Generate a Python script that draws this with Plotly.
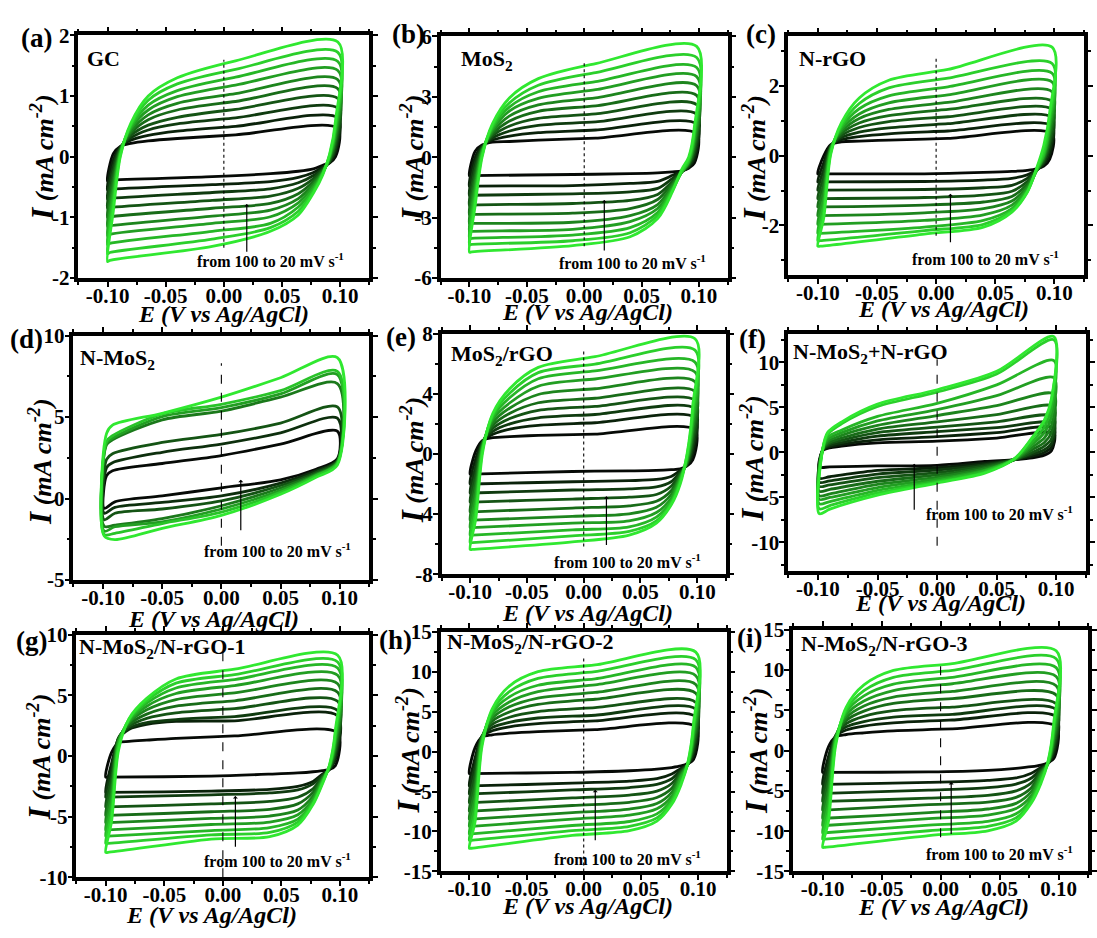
import plotly.graph_objects as go

# ---------------- DATA ----------------
# Symmetric-panel node potentials (V)
UE = [-0.1, -0.095, -0.089, -0.08, -0.065, -0.04, 0.01, 0.098]      # forward scan nodes
DE = [0.096, 0.091, 0.085, 0.077, 0.064, 0.04, -0.01, -0.098]      # reverse scan nodes
# each row = one node, each column = one scan rate (dark -> bright)

A_UP = [[-0.40, -0.55, -0.70, -0.85, -1.0, -1.15, -1.3, -1.45, -1.6, -1.73],
        [0.05, -0.05, -0.15, -0.25, -0.35, -0.45, -0.55, -0.65, -0.77, -0.9],
        [0.17, 0.16, 0.15, 0.14, 0.12, 0.1, 0.08, 0.06, 0.03, 0.0],
        [0.22, 0.27, 0.31, 0.35, 0.39, 0.42, 0.46, 0.49, 0.52, 0.55],
        [0.26, 0.35, 0.44, 0.52, 0.61, 0.69, 0.77, 0.85, 0.93, 1.0],
        [0.30, 0.42, 0.54, 0.65, 0.77, 0.88, 0.99, 1.09, 1.2, 1.30],
        [0.36, 0.50, 0.64, 0.78, 0.91, 1.04, 1.18, 1.31, 1.44, 1.58],
        [0.47, 0.64, 0.80, 0.96, 1.12, 1.27, 1.42, 1.57, 1.72, 1.89]]
A_DN = [[0.0, 0.07, 0.13, 0.2, 0.27, 0.33, 0.4, 0.46, 0.53, 0.6],
        [-0.1, -0.1, -0.08, -0.07, -0.05, -0.03, -0.01, 0.01, 0.03, 0.05],
        [-0.14, -0.17, -0.19, -0.21, -0.23, -0.25, -0.26, -0.27, -0.28, -0.3],
        [-0.2, -0.26, -0.31, -0.36, -0.41, -0.45, -0.49, -0.53, -0.57, -0.6],
        [-0.24, -0.34, -0.43, -0.52, -0.61, -0.69, -0.76, -0.83, -0.9, -0.96],
        [-0.28, -0.41, -0.53, -0.65, -0.77, -0.88, -0.99, -1.1, -1.17, -1.23],
        [-0.33, -0.46, -0.59, -0.72, -0.85, -0.98, -1.1, -1.23, -1.36, -1.48],
        [-0.39, -0.54, -0.69, -0.84, -0.99, -1.14, -1.28, -1.43, -1.58, -1.71]]

B_UP = [[-0.93, -1.45, -1.9, -2.4, -2.85, -3.3, -3.7, -4.05, -4.35, -4.72],
        [0.3, 0.0, -0.3, -0.6, -0.9, -1.2, -1.5, -1.8, -2.1, -2.4],
        [0.6, 0.55, 0.5, 0.45, 0.4, 0.35, 0.3, 0.2, 0.1, 0.0],
        [0.75, 0.85, 0.95, 1.05, 1.15, 1.25, 1.35, 1.45, 1.55, 1.65],
        [0.78, 1.05, 1.3, 1.55, 1.8, 2.05, 2.3, 2.5, 2.7, 2.95],
        [0.85, 1.22, 1.58, 1.93, 2.28, 2.6, 2.92, 3.25, 3.57, 3.9],
        [0.95, 1.35, 1.75, 2.15, 2.55, 2.95, 3.35, 3.75, 4.2, 4.65],
        [1.17, 1.65, 2.13, 2.6, 3.07, 3.55, 4.0, 4.45, 4.95, 5.5]]
B_DN = [[-0.3, -0.1, 0.1, 0.3, 0.5, 0.7, 0.9, 1.1, 1.3, 1.5],
        [-0.55, -0.5, -0.45, -0.4, -0.35, -0.3, -0.25, -0.2, -0.1, 0.0],
        [-0.68, -0.7, -0.72, -0.73, -0.74, -0.74, -0.74, -0.73, -0.7, -0.6],
        [-0.73, -0.9, -1.05, -1.2, -1.3, -1.4, -1.5, -1.58, -1.65, -1.7],
        [-0.78, -1.2, -1.55, -1.85, -2.1, -2.35, -2.55, -2.75, -2.9, -3.05],
        [-0.82, -1.3, -1.72, -2.15, -2.55, -2.9, -3.2, -3.5, -3.75, -3.95],
        [-0.86, -1.41, -1.82, -2.3, -2.78, -3.23, -3.58, -3.87, -4.15, -4.39],
        [-0.92, -1.44, -1.89, -2.38, -2.84, -3.29, -3.68, -4.03, -4.33, -4.7]]

C_UP = [[-0.52, -0.75, -0.99, -1.23, -1.47, -1.72, -1.97, -2.23, -2.44, -2.6],
        [0.0, -0.2, -0.4, -0.6, -0.8, -1.0, -1.2, -1.4, -1.6, -1.8],
        [0.32, 0.3, 0.28, 0.26, 0.24, 0.22, 0.2, 0.15, 0.1, 0.05],
        [0.4, 0.46, 0.52, 0.58, 0.64, 0.7, 0.76, 0.82, 0.88, 0.95],
        [0.42, 0.55, 0.68, 0.81, 0.94, 1.07, 1.2, 1.35, 1.5, 1.66],
        [0.45, 0.63, 0.8, 0.98, 1.15, 1.33, 1.52, 1.72, 1.95, 2.17],
        [0.5, 0.71, 0.92, 1.12, 1.33, 1.53, 1.75, 1.98, 2.23, 2.48],
        [0.63, 0.85, 1.1, 1.33, 1.56, 1.84, 2.12, 2.37, 2.65, 3.12]]
C_DN = [[-0.1, 0.05, 0.2, 0.35, 0.5, 0.65, 0.8, 0.95, 1.1, 1.25],
        [-0.3, -0.25, -0.2, -0.15, -0.1, -0.05, 0.0, 0.05, 0.15, 0.3],
        [-0.38, -0.4, -0.42, -0.42, -0.42, -0.42, -0.42, -0.4, -0.38, -0.35],
        [-0.42, -0.55, -0.65, -0.74, -0.82, -0.89, -0.95, -1.0, -1.04, -1.05],
        [-0.45, -0.65, -0.85, -1.02, -1.17, -1.3, -1.42, -1.52, -1.58, -1.62],
        [-0.48, -0.7, -0.92, -1.13, -1.33, -1.52, -1.7, -1.86, -1.97, -2.05],
        [-0.52, -0.74, -0.97, -1.2, -1.42, -1.64, -1.86, -2.05, -2.15, -2.25],
        [-0.52, -0.75, -0.99, -1.23, -1.47, -1.72, -1.97, -2.23, -2.44, -2.6]]

E_UP = [[-1.35, -2.0, -2.6, -3.2, -3.85, -4.4, -4.9, -5.4, -5.9, -6.35],
        [0.2, -0.3, -0.8, -1.3, -1.8, -2.3, -2.8, -3.3, -3.8, -4.3],
        [0.9, 0.85, 0.8, 0.75, 0.7, 0.6, 0.5, 0.4, 0.3, 0.1],
        [1.08, 1.3, 1.5, 1.7, 1.9, 2.1, 2.3, 2.45, 2.6, 2.7],
        [1.15, 1.65, 2.0, 2.35, 2.7, 3.05, 3.4, 3.75, 4.05, 4.35],
        [1.23, 1.9, 2.4, 2.9, 3.4, 3.95, 4.5, 5.0, 5.4, 5.75],
        [1.32, 2.07, 2.62, 3.16, 3.7, 4.33, 4.98, 5.52, 5.97, 6.46],
        [1.6, 2.4, 3.0, 3.55, 4.15, 4.8, 5.45, 6.1, 6.9, 7.65]]
E_DN = [[-0.4, 0.0, 0.4, 0.8, 1.2, 1.6, 2.0, 2.4, 2.8, 3.2],
        [-0.8, -0.75, -0.7, -0.65, -0.6, -0.5, -0.4, -0.3, -0.1, 0.0],
        [-1.0, -1.1, -1.2, -1.3, -1.4, -1.5, -1.6, -1.7, -1.85, -2.0],
        [-1.05, -1.5, -1.85, -2.15, -2.45, -2.7, -2.95, -3.15, -3.3, -3.4],
        [-1.1, -1.7, -2.2, -2.7, -3.15, -3.55, -3.9, -4.2, -4.45, -4.6],
        [-1.13, -1.78, -2.32, -2.88, -3.45, -3.98, -4.45, -4.85, -5.15, -5.4],
        [-1.17, -1.85, -2.4, -3.0, -3.6, -4.15, -4.6, -5.05, -5.45, -5.85],
        [-1.35, -2.0, -2.6, -3.2, -3.85, -4.4, -4.9, -5.4, -5.9, -6.35]]

G_UP = [[-1.75, -3.0, -3.4, -4.2, -4.9, -5.5, -6.1, -6.6, -7.2, -7.95],
        [0.3, -0.6, -1.2, -1.8, -2.4, -3.0, -3.6, -4.2, -4.8, -5.4],
        [1.1, 1.4, 1.5, 1.5, 1.4, 1.3, 1.2, 1.0, 0.8, 0.5],
        [1.2, 2.2, 2.3, 2.45, 2.6, 2.75, 2.85, 2.95, 3.05, 3.1],
        [1.3, 2.6, 2.75, 3.1, 3.45, 3.8, 4.1, 4.35, 4.55, 4.75],
        [1.45, 2.85, 3.0, 3.55, 4.1, 4.65, 5.15, 5.6, 6.0, 6.35],
        [1.65, 2.9, 3.25, 3.9, 4.55, 5.2, 5.8, 6.3, 6.7, 7.15],
        [1.9, 3.3, 3.75, 4.5, 5.25, 5.95, 6.65, 7.25, 7.75, 8.3]]
G_DN = [[-0.8, -0.3, 0.0, 0.3, 0.6, 0.9, 1.2, 1.5, 1.8, 2.1],
        [-1.1, -1.1, -1.1, -1.05, -1.0, -0.95, -0.9, -0.85, -0.8, -0.75],
        [-1.2, -1.5, -1.6, -1.7, -1.8, -1.9, -2.0, -2.1, -2.2, -2.3],
        [-1.3, -2.1, -2.3, -2.7, -3.0, -3.3, -3.55, -3.75, -3.9, -4.0],
        [-1.4, -2.5, -2.8, -3.4, -3.95, -4.45, -4.85, -5.2, -5.45, -5.7],
        [-1.5, -2.75, -3.05, -3.75, -4.4, -4.95, -5.45, -5.9, -6.3, -6.65],
        [-1.66, -2.9, -3.2, -3.95, -4.6, -5.15, -5.65, -6.15, -6.5, -6.85],
        [-1.75, -3.0, -3.4, -4.2, -4.9, -5.5, -6.1, -6.6, -7.2, -7.95]]

H_UP = [[-2.75, -4.3, -5.3, -6.4, -7.45, -8.45, -9.35, -10.3, -11.1, -12.1],
        [0.5, -0.8, -1.8, -2.8, -3.8, -4.8, -5.8, -6.8, -7.8, -8.8],
        [1.8, 1.9, 1.9, 1.9, 1.8, 1.7, 1.5, 1.3, 1.0, 0.6],
        [2.1, 2.6, 3.0, 3.4, 3.8, 4.15, 4.5, 4.85, 5.1, 5.35],
        [2.3, 3.1, 3.65, 4.3, 4.95, 5.6, 6.2, 6.85, 7.5, 8.2],
        [2.5, 3.5, 4.2, 5.0, 5.9, 6.7, 7.5, 8.3, 9.15, 10.0],
        [2.75, 3.85, 4.55, 5.5, 6.55, 7.4, 8.35, 9.1, 10.0, 10.85],
        [3.1, 4.35, 5.3, 6.15, 7.3, 8.4, 9.5, 10.55, 11.5, 12.45]]
H_DN = [[-1.0, -0.5, 0.0, 0.5, 1.0, 1.5, 2.0, 2.5, 3.0, 3.5],
        [-1.5, -1.6, -1.6, -1.6, -1.6, -1.6, -1.6, -1.6, -1.5, -1.4],
        [-1.8, -2.1, -2.3, -2.5, -2.7, -2.9, -3.1, -3.4, -3.9, -4.2],
        [-2.0, -2.8, -3.4, -4.0, -4.6, -5.1, -5.6, -6.0, -6.3, -6.6],
        [-2.2, -3.4, -4.1, -4.95, -5.75, -6.5, -7.15, -7.8, -8.3, -8.7],
        [-2.4, -3.7, -4.5, -5.45, -6.35, -7.2, -7.95, -8.75, -9.35, -9.9],
        [-2.6, -3.95, -4.8, -5.8, -6.75, -7.65, -8.45, -9.25, -9.9, -10.5],
        [-2.75, -4.3, -5.3, -6.4, -7.45, -8.45, -9.35, -10.3, -11.1, -12.1]]

I_UP = [[-2.7, -4.2, -5.3, -6.3, -7.4, -8.4, -9.3, -10.2, -11.0, -12.0],
        [0.5, -0.7, -1.7, -2.7, -3.7, -4.7, -5.7, -6.7, -7.7, -8.7],
        [1.7, 1.8, 1.85, 1.85, 1.75, 1.65, 1.5, 1.3, 1.0, 0.6],
        [2.0, 2.55, 2.95, 3.35, 3.75, 4.1, 4.45, 4.8, 5.1, 5.4],
        [2.2, 3.05, 3.6, 4.25, 4.9, 5.55, 6.15, 6.8, 7.45, 8.15],
        [2.45, 3.45, 4.15, 4.95, 5.85, 6.65, 7.45, 8.25, 9.1, 9.95],
        [2.7, 3.8, 4.5, 5.4, 6.45, 7.35, 8.3, 9.1, 9.95, 10.8],
        [3.0, 4.2, 5.1, 5.8, 6.9, 8.05, 9.2, 10.3, 11.4, 12.4]]
I_DN = [[-1.0, -0.5, 0.0, 0.5, 1.0, 1.5, 2.0, 2.5, 3.0, 3.5],
        [-1.5, -1.6, -1.6, -1.6, -1.6, -1.6, -1.6, -1.6, -1.5, -1.4],
        [-1.8, -2.1, -2.3, -2.5, -2.7, -2.9, -3.1, -3.4, -3.8, -4.1],
        [-2.0, -2.8, -3.4, -4.0, -4.6, -5.1, -5.6, -6.0, -6.3, -6.5],
        [-2.2, -3.4, -4.15, -5.0, -5.8, -6.55, -7.2, -7.85, -8.35, -8.75],
        [-2.45, -3.7, -4.6, -5.55, -6.4, -7.25, -8.0, -8.8, -9.4, -9.95],
        [-2.65, -3.95, -4.9, -5.9, -6.7, -7.7, -8.45, -9.25, -9.95, -10.55],
        [-2.7, -4.2, -5.3, -6.3, -7.4, -8.4, -9.3, -10.2, -11.0, -12.0]]

# Panel (d): 7 scan rates
D_UE = [-0.099, -0.097, -0.092, -0.05, 0.0, 0.05, 0.098]
D_DE = [0.098, 0.08, 0.05, 0.0, -0.05, -0.09]
D_UP = [[-0.6, -0.9, -1.3, -1.7, -2.0, -2.2, -2.3],
        [1.4, 1.9, 2.4, 3.3, 3.4, 3.5, 4.0],
        [1.7, 2.2, 2.75, 3.6, 3.7, 3.85, 4.5],
        [2.15, 2.84, 3.44, 4.83, 5.03, 5.19, 5.23],
        [2.64, 3.34, 3.93, 5.36, 5.58, 5.78, 6.22],
        [3.34, 4.03, 4.63, 6.22, 6.42, 6.62, 7.41],
        [4.13, 4.93, 5.62, 7.05, 7.6, 7.8, 8.64]]
D_DN = [[2.44, 2.35, 2.3, 2.25, 2.2, 2.15, 2.05],
        [1.8, 1.7, 1.6, 1.5, 1.45, 1.4, 1.3],
        [1.15, 0.95, 0.8, 0.65, 0.5, 0.38, 0.26],
        [0.66, 0.16, -0.14, -0.44, -0.64, -0.83, -1.03],
        [0.16, -0.24, -0.64, -1.23, -1.43, -1.53, -1.83],
        [-0.2, -0.54, -0.9, -1.63, -1.73, -2.13, -2.52]]

# Panel (f): fan shaped loops
F_UE = [-0.099, -0.096, -0.092, -0.08, -0.05, 0.0, 0.05, 0.098]
F_DE = [0.096, 0.09, 0.08, 0.065, 0.04, 0.0, -0.05, -0.09]
F_UP = [[-1.6, -2.85, -3.3, -3.75, -4.3, -4.8, -5.2, -5.7, -6.25, -6.8],
        [0.2, 0.25, 0.3, 0.3, 0.35, 0.35, 0.4, 0.4, 0.4, 0.4],
        [0.45, 0.55, 0.7, 0.85, 1.0, 1.2, 1.45, 1.7, 2.0, 2.2],
        [0.71, 0.9, 1.1, 1.35, 1.6, 1.9, 2.2, 2.5, 3.2, 3.4],
        [1.07, 1.4, 1.8, 2.2, 2.6, 3.0, 3.5, 4.0, 5.1, 5.36],
        [1.25, 1.75, 2.3, 2.8, 3.4, 4.1, 4.75, 5.45, 6.7, 6.96],
        [1.6, 2.2, 2.75, 3.4, 4.2, 5.2, 6.3, 7.5, 8.7, 9.0],
        [2.1, 2.7, 3.2, 4.0, 5.1, 6.5, 8.3, 10.2, 12.5, 12.86]]
F_DN = [[0.2, 0.6, 1.0, 1.5, 2.2, 3.0, 4.0, 5.0, 5.8, 6.0],
        [-0.3, 0.0, 0.3, 0.7, 1.1, 1.6, 2.2, 2.8, 3.4, 3.6],
        [-0.6, -0.4, -0.2, 0.0, 0.3, 0.6, 0.9, 1.2, 1.6, 1.7],
        [-0.8, -0.8, -0.8, -0.8, -0.8, -0.8, -0.75, -0.7, -0.7, -0.7],
        [-1.0, -1.2, -1.35, -1.5, -1.65, -1.8, -1.95, -2.05, -2.2, -2.3],
        [-1.43, -1.7, -1.95, -2.25, -2.5, -2.75, -2.95, -3.15, -3.3, -3.4],
        [-1.5, -2.0, -2.4, -2.8, -3.2, -3.55, -3.9, -4.2, -4.5, -4.75],
        [-1.6, -2.7, -3.15, -3.6, -4.1, -4.6, -5.0, -5.45, -5.9, -6.3]]

SAMPLES = ["GC", "MoS<sub>2</sub>", "N-rGO", "N-MoS<sub>2</sub>", "MoS<sub>2</sub>/rGO",
           "N-MoS<sub>2</sub>+N-rGO", "N-MoS<sub>2</sub>/N-rGO-1", "N-MoS<sub>2</sub>/N-rGO-2",
           "N-MoS<sub>2</sub>/N-rGO-3"]
LETTERS = ["(a)", "(b)", "(c)", "(d)", "(e)", "(f)", "(g)", "(h)", "(i)"]
X_TICKS = [-0.10, -0.05, 0.00, 0.05, 0.10]
Y_RANGES = [[-2, 2], [-6, 6], [-3.43, 3.43], [-5, 10], [-8, 8], [-13.2, 13.2],
            [-10, 10], [-15, 15], [-15, 15]]
Y_TICKS = [[-2, -1, 0, 1, 2], [-6, -3, 0, 3, 6], [-2, 0, 2], [-5, 0, 5, 10], [-8, -4, 0, 4, 8],
           [-10, -5, 0, 5, 10], [-10, -5, 0, 5, 10], [-15, -10, -5, 0, 5, 10, 15],
           [-15, -10, -5, 0, 5, 10, 15]]
# vertical reference line at E = 0 (bottom, top current)
REF_LINE = [[-1.5, 1.6], [-4.42, 4.7], [-2.3, 2.86], [-2.9, 8.3], [-6.16, 6.85],
            [-10.36, 10.36], [-10, 9.1], [-15, 12.0], [-10.75, 11.1]]
# arrow: E, tail current, head current
ARROWS = [[0.0197, -1.59, -0.78], [0.0175, -4.71, -2.13], [0.0121, -2.53, -1.09],
          [0.0164, -2.03, 1.15], [0.02, -6.16, -2.81], [-0.0192, -6.54, -1.25],
          [0.0107, -7.6, -3.3], [0.0101, -11.27, -4.78], [0.009, -10.55, -3.88]]

PANEL_DATA = [(UE, A_UP, DE, A_DN), (UE, B_UP, DE, B_DN), (UE, C_UP, DE, C_DN),
              (D_UE, D_UP, D_DE, D_DN), (UE, E_UP, DE, E_DN), (F_UE, F_UP, F_DE, F_DN),
              (UE, G_UP, DE, G_DN), (UE, H_UP, DE, H_DN), (UE, I_UP, DE, I_DN)]

# ---------------- LAYOUT / STYLE ----------------
W, H = 1097, 938
BOX = [(79, 372, 24, 273), (444, 733, 25, 273), (794, 1092, 25, 270),
       (74, 372, 332, 583), (445, 731, 330, 577), (794, 1094, 330, 574),
       (77, 372, 639, 888), (444, 732, 636, 882), (799, 1096, 634, 882)]
LETTER_POS = [(37, 27), (411, 23), (767, 23), (27, 336), (404, 334), (758, 336),
              (32, 646), (398, 644), (755, 642)]
SAMPLE_POS = [(86, 48), (462, 49), (803, 48), (79, 356), (452, 352), (797, 350),
              (78, 653), (448, 648), (805, 650)]
XT_POS = [(225, 310), (592, 308), (950, 305), (215, 623), (592, 617), (947, 607),
          (213, 927), (592, 917), (950, 918)]
YT_POS = [(42, 150), (415, 150), (760, 150), (40, 462), (415, 460), (758, 458),
          (40, 765), (412, 758), (762, 758)]
RATE_POS = [(272, 254), (637, 257), (993, 252), (280, 552), (632, 563), (1007, 514),
            (280, 870), (632, 868), (1007, 863)]
DASH = ["dot", "dot", "dot", "dash", "dot", "dash", "dash", "dot", "dash"]

FONT = "Liberation Serif, Times New Roman, serif"


def color(k, n):
    t = k / (n - 1)
    r = int(6 + t * (48 - 6))
    g = int(10 + t * (232 - 10))
    b = int(6 + t * (48 - 6))
    return f"rgb({r},{g},{b})"


fig = go.Figure()
annotations = []
shapes = []
layout = {}

for p in range(9):
    n = p + 1
    xa = "x" if n == 1 else f"x{n}"
    ya = "y" if n == 1 else f"y{n}"
    ue, up, de, dn = PANEL_DATA[p]
    nloops = len(up[0])
    for k in range(nloops):
        ex = list(ue) + list(de) + [ue[0]]
        iy = [row[k] for row in up] + [row[k] for row in dn] + [up[0][k]]
        fig.add_trace(go.Scatter(x=ex, y=iy, mode="lines", xaxis=xa, yaxis=ya,
                                 line=dict(color=color(k, nloops), width=2.8,
                                           shape="spline", smoothing=0.85),
                                 showlegend=False, hoverinfo="skip"))
    x0, x1, y0, y1 = BOX[p]
    axcommon = dict(showline=True, linewidth=3.5, linecolor="black", mirror="allticks",
                    ticks="outside", ticklen=5, tickwidth=2, tickcolor="black",
                    showgrid=False, zeroline=False,
                    tickfont=dict(family=FONT, size=21, color="black"))
    ytk = Y_TICKS[p]
    ystep = ytk[1] - ytk[0]
    yminor = [v + ystep / 2 for v in ytk[:-1]]
    if ytk[0] - ystep / 2 >= Y_RANGES[p][0]:
        yminor = [ytk[0] - ystep / 2] + yminor
    if ytk[-1] + ystep / 2 <= Y_RANGES[p][1]:
        yminor = yminor + [ytk[-1] + ystep / 2]
    layout["xaxis" if n == 1 else f"xaxis{n}"] = dict(
        domain=[x0 / W, x1 / W], range=[-0.125, 0.125], anchor=ya,
        tickmode="array", tickvals=X_TICKS,
        ticktext=["<b>" + f"{v:.2f}" + "</b>" for v in X_TICKS],
        ticklabelstandoff=-9,
        minor=dict(tickvals=[-0.125, -0.075, -0.025, 0.025, 0.075, 0.125], ticks="outside",
                   ticklen=3, tickwidth=1.5, tickcolor="black", showgrid=False),
        **axcommon)
    layout["yaxis" if n == 1 else f"yaxis{n}"] = dict(
        domain=[1 - y1 / H, 1 - y0 / H], range=Y_RANGES[p], anchor=xa,
        tickmode="array", tickvals=ytk, ticktext=["<b>" + str(v) + "</b>" for v in ytk],
        ticklabelstandoff=-4,
        minor=dict(tickvals=yminor, ticks="outside", ticklen=3, tickwidth=1.5,
                   tickcolor="black", showgrid=False),
        **axcommon)
    # reference line at E = 0
    shapes.append(dict(type="line", xref=xa, yref=ya, x0=0, x1=0,
                       y0=REF_LINE[p][0], y1=REF_LINE[p][1],
                       line=dict(color="black", width=1.1, dash=DASH[p])))
    # arrow
    ar = ARROWS[p]
    annotations.append(dict(xref=xa, yref=ya, axref=xa, ayref=ya, x=ar[0], y=ar[2],
                            ax=ar[0], ay=ar[1], text="", showarrow=True, arrowhead=1,
                            arrowsize=0.7, arrowwidth=1.2, arrowcolor="black"))
    # texts
    lx, ly = LETTER_POS[p]
    annotations.append(dict(xref="paper", yref="paper", x=lx / W, y=1 - ly / H,
                            text="<b>" + LETTERS[p] + "</b>", showarrow=False,
                            xanchor="center", yanchor="middle",
                            font=dict(family=FONT, size=27, color="black")))
    sx, sy = SAMPLE_POS[p]
    annotations.append(dict(xref="paper", yref="paper", x=sx / W, y=1 - sy / H,
                            text="<b>" + SAMPLES[p] + "</b>", showarrow=False,
                            xanchor="left", yanchor="middle",
                            font=dict(family=FONT, size=22, color="black")))
    tx, ty = XT_POS[p]
    annotations.append(dict(xref="paper", yref="paper", x=tx / W, y=1 - ty / H,
                            text="<b><i>E (V vs Ag/AgCl)</i></b>", showarrow=False,
                            xanchor="center", yanchor="middle",
                            font=dict(family=FONT, size=24, color="black")))
    yx, yy = YT_POS[p]
    annotations.append(dict(xref="paper", yref="paper", x=yx / W, y=1 - yy / H,
                            text="<b><i><span style='font-size:31px'>I</span> (mA cm<sup>-2</sup>)</i></b>",
                            showarrow=False, textangle=-90, xanchor="center", yanchor="middle",
                            font=dict(family=FONT, size=26, color="black")))
    rx, ry = RATE_POS[p]
    annotations.append(dict(xref="paper", yref="paper", x=rx / W, y=1 - ry / H,
                            text="<b>from 100 to 20 mV s<sup>-1</sup></b>", showarrow=False,
                            xanchor="center", yanchor="middle",
                            font=dict(family=FONT, size=16, color="black")))

fig.update_layout(width=W, height=H, margin=dict(l=0, r=0, t=0, b=0),
                  paper_bgcolor="white", plot_bgcolor="white",
                  annotations=annotations, shapes=shapes, showlegend=False, **layout)

POST = ("var d=document.getElementById('{plot_id}');"
        "d.style.position='fixed';d.style.left='0px';d.style.top='0px';"
        "document.body.style.margin='0px';document.body.style.padding='0px';"
        "document.documentElement.style.overflow='hidden';document.body.style.overflow='hidden';")

fig.write_html("out.html", config={"displayModeBar": False, "responsive": False},
               post_script=POST)
